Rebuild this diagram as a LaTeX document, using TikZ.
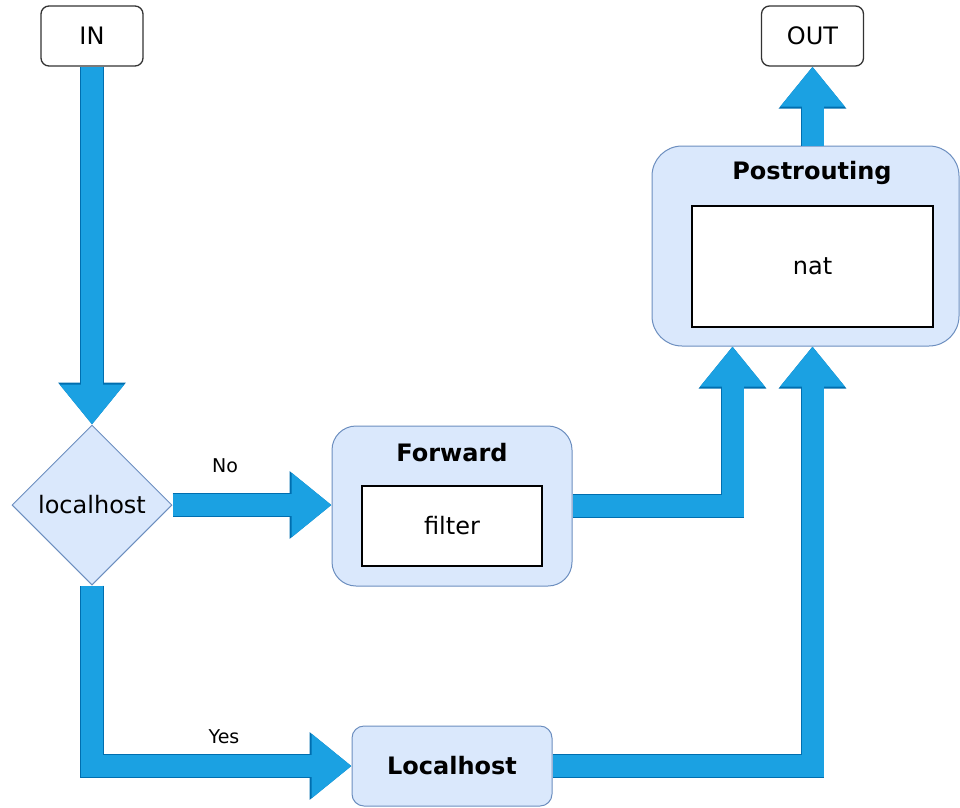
\documentclass[tikz,border=0pt]{standalone}
\usepackage{fontspec}
\setmainfont{DejaVu Sans}
\usetikzlibrary{shapes.geometric,arrows.meta,calc}
\definecolor{boxfill}{HTML}{DAE8FC}
\definecolor{boxline}{HTML}{6C8EBF}
\definecolor{flowfill}{HTML}{1BA1E2}
\definecolor{flowline}{HTML}{006EAF}
\begin{document}
\begin{tikzpicture}[x=1pt,y=-1pt,
  font=\fontsize{24}{28}\selectfont,
  terminal/.style={draw=black!80, line width=1.3pt, fill=white, rounded corners=8pt,
    minimum width=102pt, minimum height=60pt, inner sep=0pt},
  decision/.style={diamond, aspect=1, draw=boxline, fill=boxfill, line width=1pt,
    minimum width=160pt, minimum height=160pt, inner sep=0pt},
  group/.style={draw=boxline, fill=boxfill, line width=1pt, inner sep=0pt},
  chain/.style={draw=black, fill=white, line width=1.5pt, inner sep=0pt},
  title/.style={font=\fontsize{24}{28}\selectfont\bfseries},
  branch/.style={font=\fontsize{19}{22}\selectfont},
  flow/.style={line width=22pt, draw=flowfill, line join=miter,
    -{Triangle[width=62pt,length=40pt]},
    preaction={draw=flowline, line width=23.5pt, -{Triangle[width=65pt,length=42pt]}}}]
\useasboundingbox (0,0) rectangle (960,807);

% terminals
\node[terminal] (in) at (92,36) {IN};
\node[terminal] (out) at (812.5,36) {OUT};

% routing decision
\node[decision] (dec) at (92,505) {localhost};

% forward chain
\node[group, rounded corners=24pt, minimum width=240pt, minimum height=160pt] (fwd) at (452,506) {};
\node[title] (fwdtitle) at (452,453) {Forward};
\node[chain, minimum width=180pt, minimum height=80pt] (filter) at (452,526) {filter};

% postrouting chain
\node[group, rounded corners=30pt, minimum width=307pt, minimum height=200pt] (post) at (805.5,246) {};
\node[title] (posttitle) at (812,173) {Postrouting};
\node[chain, minimum width=241pt, minimum height=121pt] (nat) at (812.5,266.5) {nat};

% local delivery
\node[group, rounded corners=12pt, minimum width=200pt, minimum height=80pt] (loc) at (452,766) {\bfseries Localhost};

% branch labels
\node[branch] (nolabel) at (225,466) {No};
\node[branch] (yeslabel) at (224,737) {Yes};

% entry points on the postrouting box
\coordinate (natin) at ($(post.south west)+(81,0)$);
\coordinate (locin) at ($(post.south west)+(161,0)$);

% packet flow
\draw[flow] (in.south) -- (dec.north);
\draw[flow] (dec.east) -- (dec.east -| fwd.west);
\draw[flow] (fwd.east) -| (natin);
\draw[flow] (dec.south) |- (loc.west);
\draw[flow] (loc.east) -| (locin);
\draw[flow] (out.south |- post.north) -- (out.south);
\end{tikzpicture}
\end{document}
